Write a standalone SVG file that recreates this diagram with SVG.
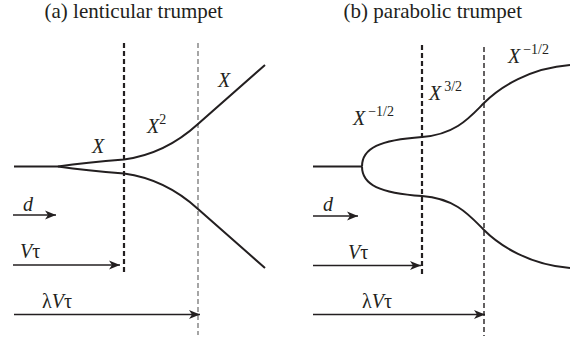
<svg xmlns="http://www.w3.org/2000/svg" width="570" height="340" viewBox="0 0 570 340">
<style>
.title{font-family:"Liberation Serif","Times New Roman",serif;font-size:21px;fill:#231f20;text-anchor:middle}
.lab{font-family:"Liberation Serif","Times New Roman",serif;font-size:20px;fill:#231f20}
.it{font-style:italic}
.sup{font-size:14px}
.curve{fill:none;stroke:#231f20;stroke-width:2}
.arrow{fill:none;stroke:#231f20;stroke-width:1.3;marker-end:url(#ah)}
.dA{fill:none;stroke:#231f20;stroke-width:2.2;stroke-dasharray:5 3}
.dB{fill:none;stroke:#808080;stroke-width:1.4;stroke-dasharray:5 3}
.dC{fill:none;stroke:#231f20;stroke-width:1.4;stroke-dasharray:5 3}
</style>
<defs>
<marker id="ah" markerUnits="userSpaceOnUse" markerWidth="12" markerHeight="10" refX="11" refY="4.5" orient="auto" overflow="visible">
<path d="M0,0 L11,4.5 L0,9 L3,4.5 Z" fill="#231f20"/>
</marker>
</defs>
<g id="titles">
<text class="title" x="133.7" y="17.5">(a) lenticular trumpet</text>
<text class="title" x="432.8" y="17.5">(b) parabolic trumpet</text>
</g>
<g id="guides">
<line class="dA" x1="124" y1="43" x2="124" y2="272"/>
<line class="dB" x1="198" y1="43" x2="198" y2="335"/>
<line class="dA" x1="422" y1="45" x2="422" y2="274"/>
<line class="dC" x1="484" y1="47" x2="484" y2="336"/>
</g>
<g id="trumpet-a">
<path class="curve" d="M14,166.5 L58,166.5"/>
<path class="curve" d="M58,166.5 C80,163.5 100,161.5 124,159.5 C150,156 175,145 198,124 L265,65"/>
<path class="curve" d="M58,166.5 C80,169.5 100,171.5 124,173.5 C150,177 175,188 198,209 L265,268"/>
</g>
<g id="trumpet-b">
<path class="curve" d="M313,166.5 L362,166.5"/>
<path class="curve" d="M362,166.5 C362,148 380,140 422,137 C456,134.5 470,117 484,103 C500,87 530,68 570,65"/>
<path class="curve" d="M362,166.5 C362,185 380,193 422,196 C456,198.5 470,216 484,230 C500,246 530,265 570,268"/>
</g>
<g id="connectors">
<line class="arrow" x1="13" y1="215" x2="56" y2="215"/>
<line class="arrow" x1="13" y1="265" x2="120" y2="265"/>
<line class="arrow" x1="14" y1="314.5" x2="200" y2="314.5"/>
<line class="arrow" x1="313" y1="216" x2="358" y2="216"/>
<line class="arrow" x1="313" y1="265.5" x2="421" y2="265.5"/>
<line class="arrow" x1="313" y1="314.5" x2="485" y2="314.5"/>
</g>
<g id="labels-a">
<text class="lab it" x="92" y="153">X</text>
<text class="lab" x="147" y="133"><tspan class="it">X</tspan><tspan class="sup" dy="-9">2</tspan></text>
<text class="lab it" x="218" y="87">X</text>
<text class="lab it" x="23" y="210.5">d</text>
<text class="lab" x="20" y="258"><tspan class="it">V</tspan>τ</text>
<text class="lab" x="42" y="308">λ<tspan class="it">V</tspan>τ</text>
</g>
<g id="labels-b">
<text class="lab" x="353" y="125"><tspan class="it">X</tspan><tspan class="sup" dx="3" dy="-9">−1/2</tspan></text>
<text class="lab" x="429" y="100"><tspan class="it">X</tspan><tspan class="sup" dx="3" dy="-9">3/2</tspan></text>
<text class="lab" x="508" y="63"><tspan class="it">X</tspan><tspan class="sup" dx="3" dy="-9">−1/2</tspan></text>
<text class="lab it" x="323" y="210.5">d</text>
<text class="lab" x="348" y="259"><tspan class="it">V</tspan>τ</text>
<text class="lab" x="362" y="308">λ<tspan class="it">V</tspan>τ</text>
</g>
</svg>
